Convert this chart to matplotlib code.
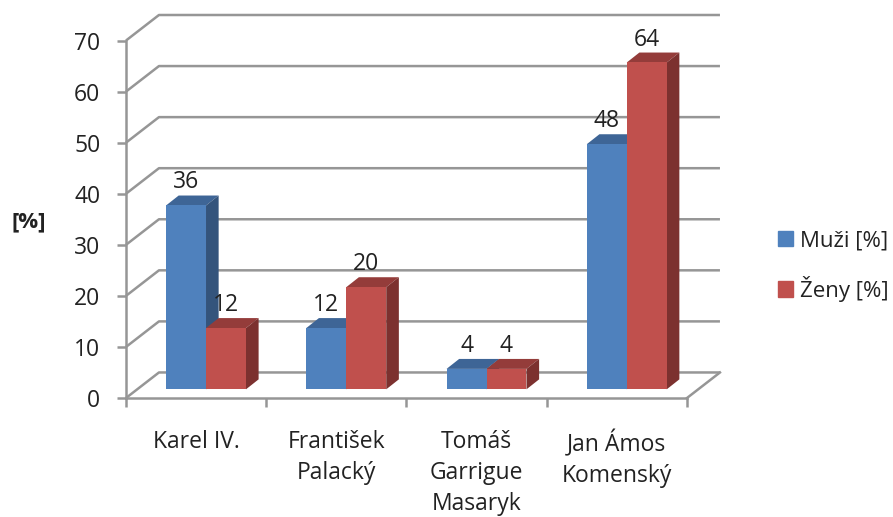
import matplotlib
matplotlib.use("Agg")
import matplotlib.pyplot as plt
from matplotlib.patches import Patch

plt.rcParams['font.family'] = ['Open Sans', 'DejaVu Sans']

categories = ["Karel IV.", "František\nPalacký", "Tomáš\nGarrigue\nMasaryk", "Jan Ámos\nKomenský"]
muzi = [36, 12, 4, 48]
zeny = [12, 20, 4, 64]
y_ticks = [0, 10, 20, 30, 40, 50, 60, 70]
series_names = ["Muži [%]", "Ženy [%]"]

GRID = "#969696"
TEXT = "#222222"
BLUE = ("#4F81BD", "#3E6596", "#34547C")
RED = ("#C0504D", "#943C3A", "#7C312F")

# wall depth and bar depth, in data units
wall_dx, wall_dy = 0.235, 5.0
bar_dx, bar_dy = 0.09, 1.95
bar_w = 0.285
lift = 1.7
W, H = 893, 517


def draw_bar(ax, left, value, colors):
    base = lift + value
    right = left + bar_w
    ax.fill([left, right, right + bar_dx, left + bar_dx],
            [base, base, base + bar_dy, base + bar_dy], color=colors[1], lw=0, zorder=3)
    ax.fill([right, right + bar_dx, right + bar_dx, right],
            [lift, lift + bar_dy, base + bar_dy, base], color=colors[2], lw=0, zorder=3)
    ax.bar(left, value, width=bar_w, bottom=lift, align='edge', color=colors[0], lw=0, zorder=3)


fig = plt.figure(figsize=(W / 100, H / 100), dpi=100)
ax = fig.add_axes([126 / W, 1 - 398 / H, (722 - 126) / W, (398 - 15) / H])
ax.set_xlim(0, (722 - 126) / 140.25)
ax.set_ylim(0, 75)
ax.patch.set_alpha(0)

# back wall grid and floor
for v in y_ticks:
    ax.plot([0, wall_dx, 4 + wall_dx], [v, v + wall_dy, v + wall_dy],
            color=GRID, lw=1.8, zorder=1, clip_on=False, solid_capstyle='butt')
ax.plot([4, 4 + wall_dx], [0, wall_dy], color=GRID, lw=1.8, zorder=1, clip_on=False)

for i in range(len(categories)):
    group_left = i + 0.2855
    draw_bar(ax, group_left, muzi[i], BLUE)
    ax.text(group_left + bar_w / 2, lift + muzi[i] + bar_dy + 0.2, str(muzi[i]),
            ha='center', va='bottom', fontsize=16.5, color=TEXT, zorder=5)
    draw_bar(ax, group_left + bar_w, zeny[i], RED)
    ax.text(group_left + bar_w * 1.5, lift + zeny[i] + bar_dy + 0.2, str(zeny[i]),
            ha='center', va='bottom', fontsize=16.5, color=TEXT, zorder=5)

for side in ['top', 'right']:
    ax.spines[side].set_visible(False)
for side in ['left', 'bottom']:
    ax.spines[side].set_color(GRID)
    ax.spines[side].set_linewidth(1.8)
    ax.spines[side].set_zorder(2)
ax.spines['left'].set_bounds(0, 70)
ax.spines['bottom'].set_bounds(0, 4)

ax.set_yticks(y_ticks)
ax.set_xticks(range(len(categories) + 1))
ax.set_xticklabels([])
ax.set_xticks([i + 0.5 for i in range(len(categories))], minor=True)
ax.set_xticklabels(categories, minor=True, fontsize=16.5, color=TEXT, linespacing=1.38)
ax.tick_params(axis='x', which='major', length=6.5, width=1.8, color=GRID)
ax.tick_params(axis='x', which='minor', length=0, pad=23)
ax.tick_params(axis='y', length=6.5, width=1.8, color=GRID, labelsize=16.5, labelcolor=TEXT, pad=12)

fig.text(29 / W, 1 - 222 / H, "[%]", fontsize=16, fontweight='bold', color=TEXT, ha='center', va='center')

handles = [Patch(color=BLUE[0], label=series_names[0]), Patch(color=RED[0], label=series_names[1])]
fig.legend(handles=handles, loc='center left', bbox_to_anchor=(778 / W, 1 - 266 / H), frameon=False,
           fontsize=16, labelcolor=TEXT, handlelength=0.68, handleheight=0.68,
           handletextpad=0.3, labelspacing=1.1, borderpad=0, borderaxespad=0)

fig.savefig("out.png", dpi=100)
